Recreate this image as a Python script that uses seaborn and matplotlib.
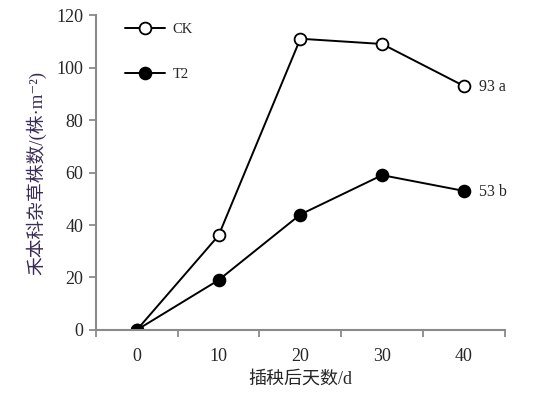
import matplotlib
matplotlib.use("Agg")
import matplotlib.pyplot as plt
import numpy as np
import pandas as pd
import seaborn as sns

days = [0, 10, 20, 30, 40]
ck_counts = [0, 36, 111, 109, 93]
t2_counts = [0, 19, 44, 59, 53]
end_labels = {"CK": "a", "T2": "b"}
y_ticks = [0, 20, 40, 60, 80, 100, 120]

sns.set_style("ticks")
plt.rcParams["font.family"] = ["Liberation Serif", "Noto Sans CJK SC", "DejaVu Sans"]

df = pd.DataFrame({
    "pos": list(range(len(days))) * 2,
    "count": ck_counts + t2_counts,
    "group": ["CK"] * len(days) + ["T2"] * len(days),
})

fig = plt.figure(figsize=(5.33, 3.98), dpi=100)
ax = fig.add_axes([0.180, 0.171, 0.767, 0.791])

axis_gray = "#8a8a8a"
for name, face in [("CK", "white"), ("T2", "black")]:
    sub = df[df["group"] == name]
    sns.lineplot(data=sub, x="pos", y="count", ax=ax, color="black", linewidth=1.4,
                 marker="o", markersize=8.5, markerfacecolor=face,
                 markeredgecolor="black", markeredgewidth=1.3, label=name)
    last = sub.iloc[-1]
    ax.annotate(f"{int(last['count'])} {end_labels[name]}", (last["pos"], last["count"]),
                xytext=(11, -1), textcoords="offset points", va="center", ha="left",
                fontsize=11.5)

ax.set_xlim(-0.5, len(days) - 0.5)
ax.set_ylim(0, 120)
ax.set_yticks(y_ticks)
ax.set_xticks(range(len(days)))
ax.set_xticklabels([str(d) for d in days])
ax.set_xticks(np.arange(-0.5, len(days)), minor=True)
ax.tick_params(axis="x", which="major", length=0, labelsize=13, pad=13)
ax.tick_params(axis="x", which="minor", length=5, width=1.3, color=axis_gray)
ax.tick_params(axis="y", length=5, width=1.3, color=axis_gray, labelsize=13, pad=4)

sns.despine(ax=ax)
for side in ["left", "bottom"]:
    ax.spines[side].set_color(axis_gray)
    ax.spines[side].set_linewidth(1.5)

ax.set_xlabel("插秧后天数/d", fontsize=13, labelpad=4)
ax.set_ylabel("禾本科杂草株数/(株·m⁻²)", fontsize=13.5, color="#3a2b58", labelpad=7)

ax.legend(loc="upper left", bbox_to_anchor=(0.07, 0.975), frameon=False,
          handlelength=2.8, handletextpad=0.5, labelspacing=2.15, borderpad=0,
          borderaxespad=0, fontsize=10.5)

plt.savefig("out.png", dpi=100)
plt.close()
